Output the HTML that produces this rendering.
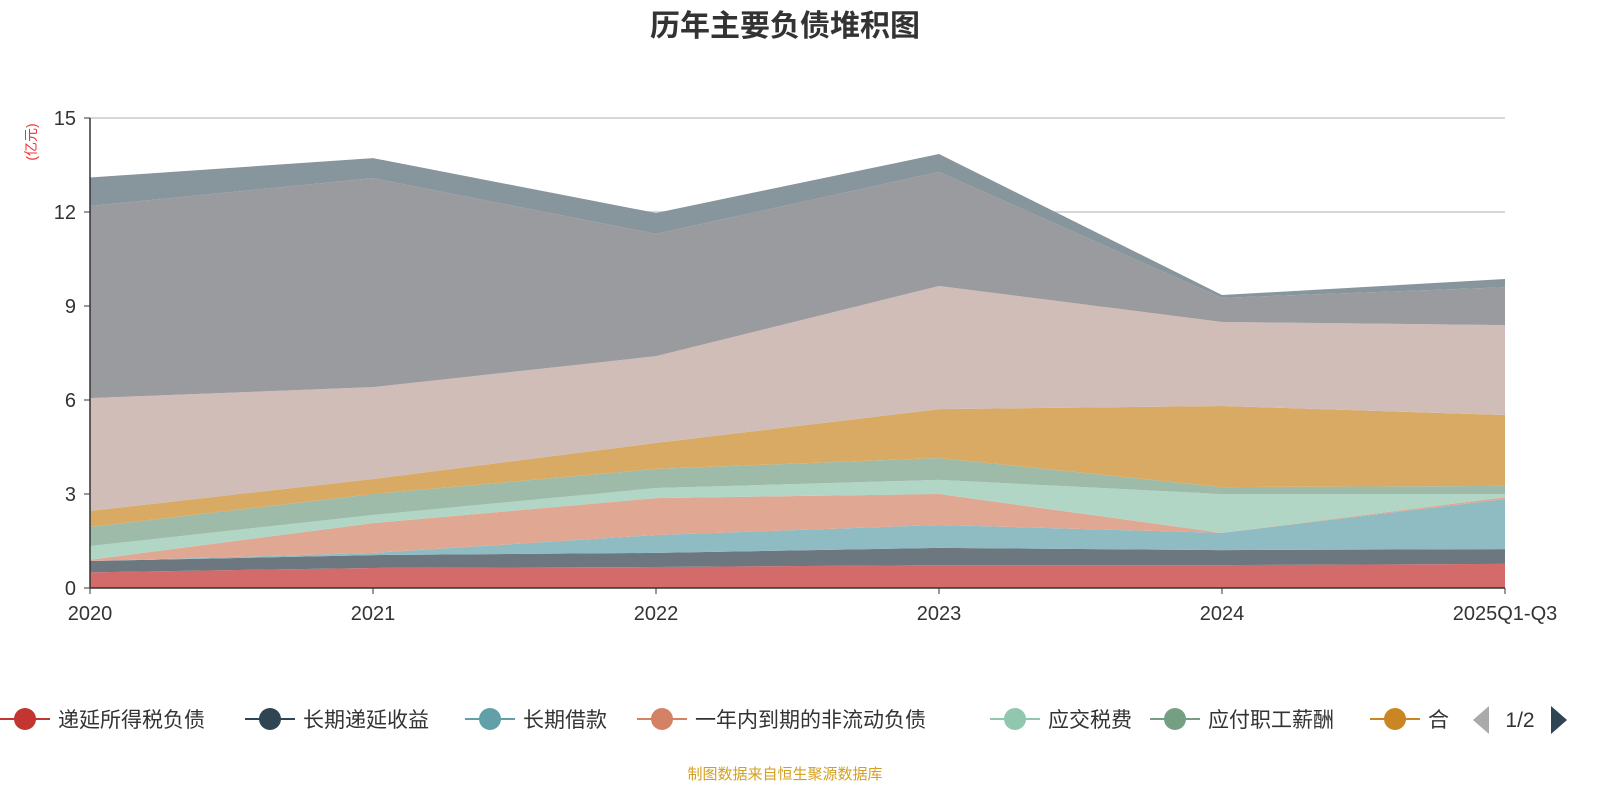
<!DOCTYPE html>
<html><head><meta charset="utf-8"><style>
body{margin:0;background:#fff;font-family:"Liberation Sans","Noto Sans CJK SC",sans-serif;}
</style></head><body>
<svg id="c" width="1600" height="800" xmlns="http://www.w3.org/2000/svg">
<text x="785" y="36" text-anchor="middle" font-size="30" font-weight="bold" fill="#333" font-family="Liberation Sans,Noto Sans CJK SC,sans-serif">历年主要负债堆积图</text>
<text transform="translate(36,142) rotate(-90)" text-anchor="middle" font-size="14" fill="#e33" font-family="Liberation Sans,Noto Sans CJK SC,sans-serif">(亿元)</text>
<g id="grid"></g><g id="areas"></g><g id="axes"></g><g id="legend"></g>
<text x="785" y="779" text-anchor="middle" font-size="15" fill="#d4a020" font-family="Liberation Sans,Noto Sans CJK SC,sans-serif">制图数据来自恒生聚源数据库</text>
</svg>
<script>
const categories=["2020","2021","2022","2023","2024","2025Q1-Q3"];
const yTicks=[0,3,6,9,12,15];
const seriesNames=["递延所得税负债","长期递延收益","长期借款","一年内到期的非流动负债","应交税费","应付职工薪酬","合同负债","应付账款","短期借款","其他"];
const s0=[0.5,0.64,0.67,0.73,0.73,0.77];
const s1=[0.36,0.41,0.45,0.55,0.48,0.47];
const s2=[0.0,0.07,0.57,0.73,0.55,1.6];
const s3=[0.04,0.95,1.18,0.99,0,0.06];
const s4=[0.44,0.26,0.32,0.45,1.24,0.1];
const s5=[0.61,0.67,0.61,0.7,0.22,0.26];
const s6=[0.51,0.48,0.83,1.56,2.59,2.26];
const s7=[3.6,2.93,2.77,3.93,2.68,2.87];
const s8=[6.13,6.67,3.9,3.64,0.77,1.21];
const s9=[0.91,0.64,0.67,0.57,0.09,0.26];
const series=[s0,s1,s2,s3,s4,s5,s6,s7,s8,s9];
const fills=["#d46b6b","#6c7780","#8fbbc3","#e0a792","#b1d6c5","#9dbba8","#d9aa63","#d0bdb8","#9a9b9f","#87959c"];
const legendColors=["#c23531","#2f4554","#61a0a8","#d48265","#91c7ae","#749f83","#ca8622"];
const NS="http://www.w3.org/2000/svg";
const X0=90,X1=1505,Y0=588,Y1=118;
const xs=i=>X0+(X1-X0)*i/(categories.length-1);
const ys=v=>Y0-(Y0-Y1)*v/15;
function mk(t,a,p){const e=document.createElementNS(NS,t);for(const k in a)e.setAttribute(k,a[k]);p.appendChild(e);return e;}
const grid=document.getElementById('grid'),axes=document.getElementById('axes'),areas=document.getElementById('areas'),leg=document.getElementById('legend');
yTicks.forEach(t=>{
 if(t>0){const l=mk('line',{x1:X0,x2:X1,y1:ys(t),y2:ys(t),stroke:'#ccc','stroke-width':1.5},grid);
 
 }
 const tk=mk('line',{x1:X0-6,x2:X0,y1:ys(t),y2:ys(t),stroke:'#333'},axes);
 
 
 const tx=mk('text',{x:X0-14,y:ys(t)+7,'text-anchor':'end','font-size':20,fill:'#333'},axes);tx.textContent=t;
 
 
});
let cum=categories.map(()=>0);
series.forEach((s,k)=>{
 const lo=cum.slice();cum=cum.map((c,i)=>c+s[i]);
 let d='';cum.forEach((v,i)=>d+=(i?'L':'M')+xs(i)+','+ys(v));
 for(let i=lo.length-1;i>=0;i--)d+='L'+xs(i)+','+ys(lo[i]);
 const p=mk('path',{d:d+'Z',fill:fills[k]},areas);
 
 
});
const ya=mk('line',{x1:X0,x2:X0,y1:Y1,y2:Y0,stroke:'#333','stroke-width':1.5},axes);


const xa=mk('line',{x1:X0,x2:X1,y1:Y0,y2:Y0,stroke:'#333','stroke-width':1.5},axes);


categories.forEach((c,i)=>{
 const tk=mk('line',{x1:xs(i),x2:xs(i),y1:Y0,y2:Y0+6,stroke:'#333'},axes);
 
 
 const tx=mk('text',{x:xs(i),y:620,'text-anchor':'middle','font-size':20,fill:'#333'},axes);tx.textContent=c;
 
 
});
const lx=[0,245,465,637,990,1150,1370];
legendColors.forEach((col,k)=>{
 const g=mk('g',{},leg);
 
 
 mk('line',{x1:lx[k],x2:lx[k]+50,y1:719,y2:719,stroke:col,'stroke-width':2},g);
 mk('circle',{cx:lx[k]+25,cy:719,r:11,fill:col},g);
 const t=mk('text',{x:lx[k]+58,y:727,'font-size':21,fill:'#333'},g);
 t.textContent=k==6?'合':seriesNames[k];
});
const pa=mk('path',{d:'M1489,706L1489,734L1473,720Z',fill:'#aaa'},leg);


const pt=mk('text',{x:1520,y:727,'text-anchor':'middle','font-size':21,fill:'#333'},leg);pt.textContent='1/2';


const pn=mk('path',{d:'M1551,706L1551,734L1567,720Z',fill:'#2f4554'},leg);


</script>
</body></html>
